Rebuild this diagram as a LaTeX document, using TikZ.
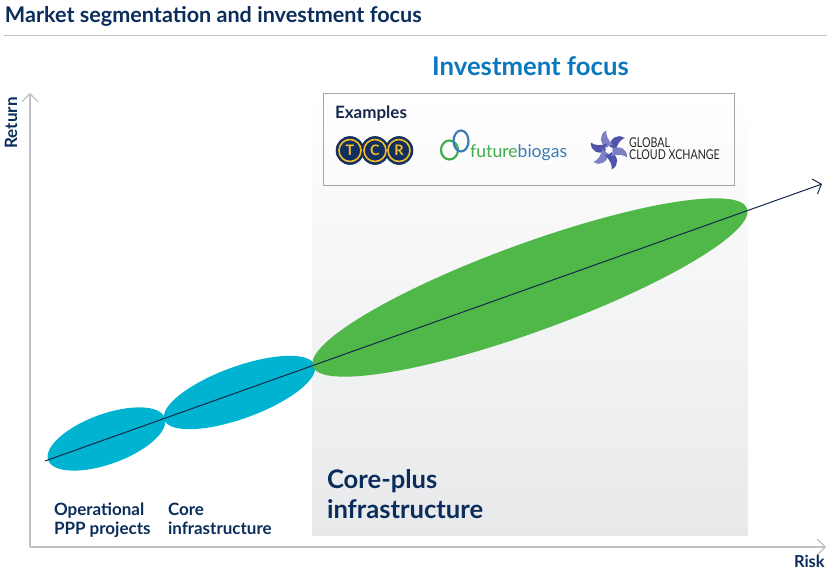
\documentclass[tikz,border=0pt]{standalone}
\usepackage{fontspec}
\setmainfont{Lato}
\usetikzlibrary{arrows.meta}
\definecolor{navy}{HTML}{0B2D5B}
\definecolor{ink}{HTML}{14284B}
\definecolor{blueh}{HTML}{0A78BE}
\definecolor{teal}{HTML}{00B3D0}
\definecolor{leaf}{HTML}{4FB848}
\definecolor{axisg}{HTML}{BFC1C5}
\definecolor{gold}{HTML}{F2B92B}
\definecolor{tcrn}{HTML}{12305F}
\definecolor{fbgreen}{HTML}{3FAE4A}
\definecolor{fbblue}{HTML}{3C7DB8}
\definecolor{swirl}{HTML}{4F54A8}
\definecolor{swirlb}{HTML}{7C80C4}
\definecolor{panelb}{HTML}{E8E9EB}
\definecolor{panelm}{HTML}{F5F6F6}
\tikzset{
  lab/.style={font=\fontsize{17}{20}\selectfont\bfseries,text=navy,anchor=base west,inner sep=0pt,outer sep=0pt},
  big/.style={font=\fontsize{25.6}{30}\selectfont\bfseries},
  axisline/.style={draw=axisg,line width=1.1pt,-{Straight Barb[length=8pt,width=16pt,line width=1.1pt]}},
  trend/.style={draw=ink,line width=1pt,-{Straight Barb[length=7pt,width=16pt,line width=1pt]}},
  tcrdisc/.style={circle,fill=tcrn,draw=tcrn,line width=0.6pt,minimum size=28pt,inner sep=0pt,outer sep=0pt},
  tcrring/.style={circle,draw=gold,line width=1.6pt,minimum size=22pt,inner sep=0pt,outer sep=0pt,
     font=\fontsize{14.5}{14}\selectfont\bfseries,text=gold},
  gcxtext/.style={font=\fontsize{13.5}{13.5}\selectfont,anchor=base west,inner sep=0pt,text=black!85,xscale=0.79},
}
\begin{document}
\begin{tikzpicture}[x=1pt,y=-1pt]
\useasboundingbox (0,0) rectangle (839,575);
% title
\node[lab,font=\fontsize{21.6}{24}\selectfont\bfseries] (title) at (5,23) {Market segmentation and investment focus};
\coordinate (ruleL) at (4,35.5); \coordinate (ruleR) at (827,35.5);
\draw[draw=axisg,line width=0.9pt] (ruleL) -- (ruleR);
% focus panel
\shade[top color=white,middle color=panelm,bottom color=panelb] (312,93) rectangle (748,535);
\node[font=\fontsize{25.7}{28}\selectfont\bfseries,text=blueh,anchor=base west,inner sep=0pt] (focus) at (432,76) {Investment focus};
% examples box
\node[draw=black!35,line width=0.8pt,minimum width=411pt,minimum height=92pt,anchor=north west,inner sep=0pt,outer sep=0pt] (box) at (323.5,93.5) {};
\node[lab,text=ink] (ex) at (335,119) {Examples};
% TCR logo
\foreach \n/\cx/\l in {a/350/T,b/375/C,c/399/R}{
  \node[tcrdisc] (disc\n) at (\cx,150.5) {};
}
\foreach \n/\cx/\l in {a/350/T,b/375/C,c/399/R}{
  \node[tcrring] (ring\n) at (\cx,150.5) {\l};
}
% future biogas logo
\draw[fbgreen,line width=2.2pt] (449.5,150) circle [x radius=8.5,y radius=9.5];
\draw[fbblue,line width=2.2pt] (461,141) circle [x radius=7.5,y radius=10.5];
\node[font=\fontsize{17.6}{20}\selectfont,anchor=base west,inner sep=0pt] (fb) at (470,158) {\textcolor{fbgreen}{future}\textcolor{fbblue}{biogas}};
% global cloud logo
\begin{scope}[shift={(609,150)}]
\foreach \a/\c in {0/swirl,60/swirlb,120/swirl,180/swirlb,240/swirl,300/swirlb}{
  \fill[\c,rotate=\a] (0.5,-3.5) .. controls (1,-11) and (8,-17) .. (15.5,-12) .. controls (11,-10) and (8,-6) .. (6.5,1.5) .. controls (6,-1) and (3,-3) .. (0.5,-3.5) -- cycle;
}
\end{scope}
\node[gcxtext] (gcx1) at (629,148) {GLOBAL};
\node[gcxtext] (gcx2) at (629,160) {CLOUD XCHANGE};
% segments
\fill[teal,rotate around={20:(106.5,439)}] (106.5,439) ellipse [x radius=62,y radius=25];
\fill[teal,rotate around={20:(239.5,392.5)}] (239.5,392.5) ellipse [x radius=80,y radius=26];
\fill[leaf,rotate around={20:(530,287.5)}] (530,287.5) ellipse [x radius=231,y radius=44];
% axes
\coordinate (origin) at (30,547); \coordinate (yend) at (30,93); \coordinate (xend) at (826,547);
\draw[axisline] (origin) -- (yend);
\draw[axisline] (origin) -- (xend);
\coordinate (ts) at (45,461); \coordinate (te) at (822,184);
\draw[trend] (ts) -- (te);
% labels
\node[lab,rotate=90] (ret) at (17,148.5) {Return};
\node[lab,font=\fontsize{16.5}{20}\selectfont\bfseries] (risk) at (794,567) {Risk};
\node[lab] (l1a) at (54,515) {Operational};
\node[lab] (l1b) at (54,534) {PPP projects};
\node[lab] (l2a) at (168,515) {Core};
\node[lab] (l2b) at (168,534) {infrastructure};
\node[lab,big] (cp1) at (327,488) {Core-plus};
\node[lab,big] (cp2) at (327,518) {infrastructure};
\end{tikzpicture}
\end{document}
